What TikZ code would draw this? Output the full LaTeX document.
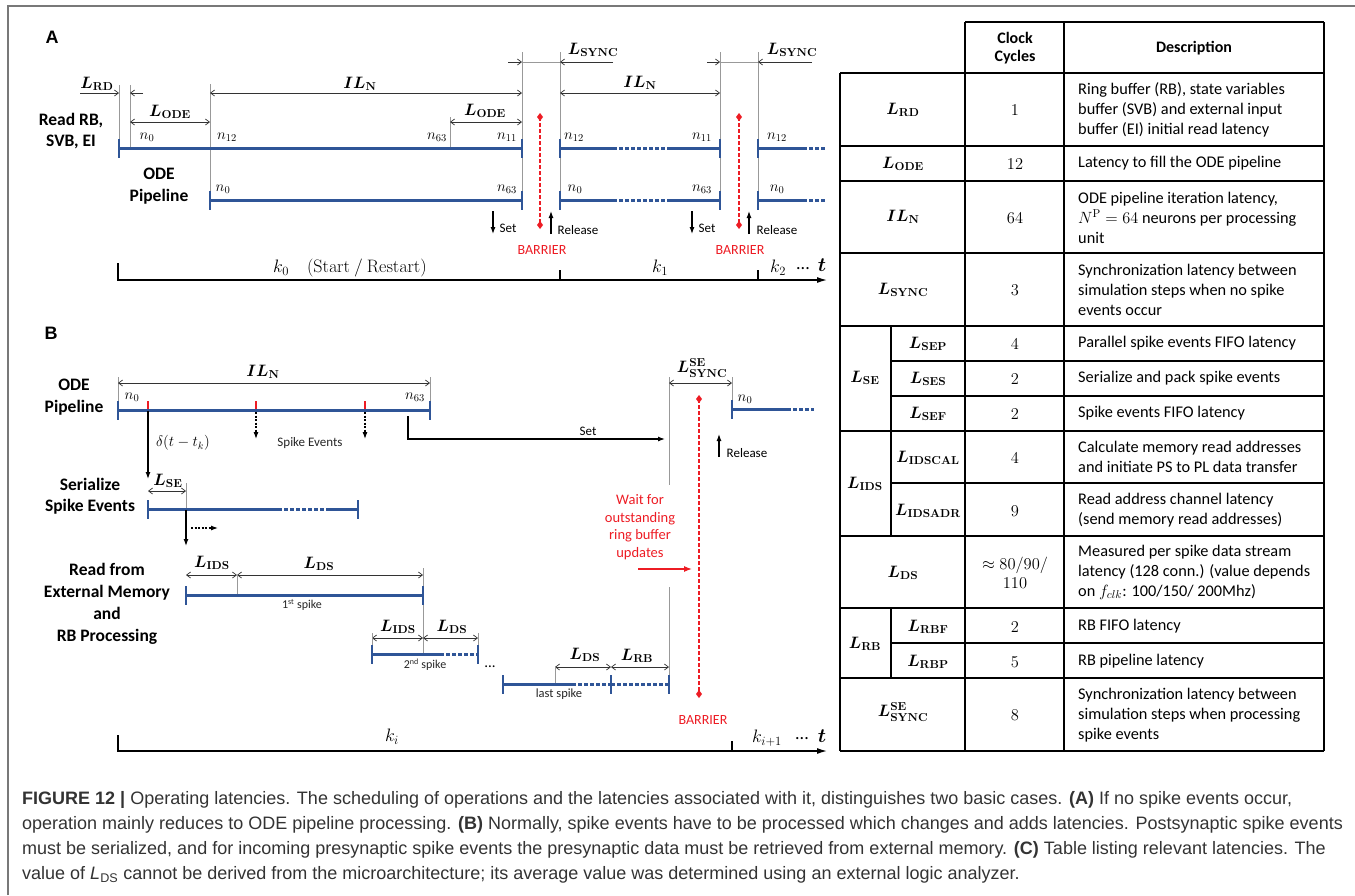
\RequirePackage{fix-cm}
\documentclass[tikz,border=0pt]{standalone}
\usepackage{amsmath}
\usepackage{bm}
\usepackage[no-math]{fontspec}
\setmainfont{Carlito}
\newfontfamily\capfont{Liberation Sans}
\usetikzlibrary{arrows.meta}
\definecolor{pipeblue}{RGB}{47,85,151}
\definecolor{barred}{RGB}{237,28,36}
\definecolor{capgray}{RGB}{51,51,51}
\definecolor{framegray}{RGB}{120,120,120}
\newcommand{\Lsub}[1]{\bm{L}_{\mathbf{#1}}}
\newcommand{\ILN}{\bm{I}\bm{L}_{\mathbf{N}}}
\newcommand{\barrierline}[3]{%
  \draw[barrierst] (#1,#2) -- (#1,#3);
  \fill[barred] (#1,#2-4) -- (#1+3,#2) -- (#1,#2+4) -- (#1-3,#2) -- cycle;
  \fill[barred] (#1,#3-4) -- (#1+3,#3) -- (#1,#3+4) -- (#1-3,#3) -- cycle;}
\tikzset{
  framest/.style={draw=framegray, line width=1.5pt},
  guide/.style={draw=black!40, line width=0.8pt},
  dim/.style={draw=black!80, line width=0.7pt, {Straight Barb[length=4pt,width=6pt]}-{Straight Barb[length=4pt,width=6pt]}},
  dimr/.style={draw=black!80, line width=0.7pt, -{Straight Barb[length=4pt,width=6pt]}},
  pipe/.style={draw=pipeblue, line width=3pt},
  pipedot/.style={draw=pipeblue, line width=3pt, dash pattern=on 3.5pt off 2.5pt},
  ptick/.style={draw=pipeblue, line width=2.6pt},
  redtick/.style={draw=barred, line width=2.6pt},
  sig/.style={draw=black, line width=1.2pt, -{Latex[length=7pt,width=5pt]}},
  sigdash/.style={draw=black, line width=1.1pt, dash pattern=on 2pt off 1.5pt, -{Latex[length=7pt,width=5pt]}},
  redsig/.style={draw=barred, line width=1.2pt, -{Latex[length=8pt,width=6pt]}},
  barrierst/.style={draw=barred, line width=2pt, dash pattern=on 4pt off 2pt},
  axisst/.style={draw=black, line width=1.3pt, -{Latex[length=10pt,width=6pt]}},
  axtick/.style={draw=black, line width=1.3pt},
  lab/.style={font=\fontsize{16.5}{20}\selectfont, inner sep=0pt},
  idx/.style={font=\fontsize{15}{17}\selectfont, inner sep=0pt},
  klab/.style={font=\fontsize{18}{20}\selectfont, inner sep=0pt},
  rowlab/.style={font=\fontsize{17.5}{21.5}\selectfont\bfseries, align=center, inner sep=0pt},
  note/.style={font=\fontsize{13}{15}\selectfont, inner sep=0pt},
  smallnote/.style={font=\fontsize{13}{15}\selectfont, text=black!85, inner sep=0pt},
  redtxt/.style={font=\fontsize{14.5}{17.5}\selectfont, text=barred, align=center, inner sep=0pt},
  panel/.style={font=\capfont\bfseries\fontsize{18}{20}\selectfont, inner sep=0pt},
  tline/.style={draw=black, line width=1.6pt},
  thead/.style={font=\fontsize{16}{18}\selectfont\bfseries, align=center, inner sep=0pt},
  tdesc/.style={font=\fontsize{16.3}{20}\selectfont, align=left, anchor=west, inner sep=0pt},
  tval/.style={font=\fontsize{16.5}{18}\selectfont, align=center, inner sep=0pt},
  tsym/.style={font=\fontsize{16.5}{20}\selectfont, inner sep=0pt},
  captext/.style={font=\capfont\fontsize{18}{20}\selectfont, text=capgray, anchor=west, inner sep=0pt},
}
\begin{document}
\begin{tikzpicture}[x=1pt,y=-1pt]
\useasboundingbox (0,0) rectangle (1355,895);
\draw[framest] (8,895) -- (8,6) -- (1355,6);

% ================= panel A: no spike events =================
\node[panel] (pA) at (52,37) {A};
\node[rowlab] (rdA) at (71,131) {Read RB,\\SVB, EI};
\node[rowlab] (odeA) at (159,186) {ODE\\Pipeline};

% guide lines
\foreach \x/\ya/\yb in {119/85/139, 130/85/148, 210/84/210, 450/117/148,
                        522/52/210, 560/52/210, 720/52/210, 758/52/210}
  \draw[guide] (\x,\ya) -- (\x,\yb);

% latency dimensions
\draw[dimr] (80,93) -- (119,93);
\draw[dimr] (143,93) -- (130,93);
\node[lab] (lrdA) at (97,84) {$\Lsub{RD}$};
\draw[dim] (210,93) -- (522,93);
\node[lab] (ilnA1) at (360,84) {$\ILN$};
\draw[dim] (130,122) -- (210,122);
\node[lab] (lodeA1) at (170,112) {$\Lsub{ODE}$};
\draw[dim] (450,122) -- (522,122);
\node[lab] (lodeA2) at (485,111) {$\Lsub{ODE}$};
\draw[dimr] (508,62) -- (522,62);
\draw[guide] (522,62) -- (560,62);
\draw[dimr] (613,62) -- (560,62);
\node[lab] (lsyncA1) at (593,50) {$\Lsub{SYNC}$};
\draw[dim] (560,93) -- (720,93);
\node[lab] (ilnA2) at (640,83) {$\ILN$};
\draw[dimr] (707,62) -- (720,62);
\draw[guide] (720,62) -- (758,62);
\draw[dimr] (812,62) -- (758,62);
\node[lab] (lsyncA2) at (792,50) {$\Lsub{SYNC}$};

% read / ODE pipeline bars
\foreach \y in {148,200} {
  \draw[pipe] (560,\y) -- (613,\y);
  \draw[pipedot] (613,\y) -- (668,\y);
  \draw[pipe] (668,\y) -- (720,\y);
  \draw[pipe] (758,\y) -- (803,\y);
  \draw[pipedot] (803,\y) -- (826,\y);
  \foreach \x in {522,560,720,758} \draw[ptick] (\x,\y-9) -- (\x,\y+10);
}
\draw[pipe] (119,148) -- (522,148);
\draw[ptick] (119,139) -- (119,158);
\draw[pipe] (210,200) -- (522,200);
\draw[ptick] (210,191) -- (210,210);

\node[idx] (nA1) at (147,137) {$n_0$};
\node[idx] (nA2) at (227,137) {$n_{12}$};
\node[idx] (nA3) at (437,137) {$n_{63}$};
\node[idx] (nA4) at (507,137) {$n_{11}$};
\node[idx] (nA5) at (574,137) {$n_{12}$};
\node[idx] (nA6) at (702,137) {$n_{11}$};
\node[idx] (nA7) at (777,137) {$n_{12}$};
\node[idx] (nA8) at (223,189) {$n_0$};
\node[idx] (nA9) at (507,189) {$n_{63}$};
\node[idx] (nA10) at (575,189) {$n_0$};
\node[idx] (nA11) at (702,189) {$n_{63}$};
\node[idx] (nA12) at (777,189) {$n_0$};

% barriers
\barrierline{540}{117}{225}
\barrierline{739}{117}{225}
\node[note, text=barred, font=\fontsize{14}{16}\selectfont] (barA1) at (542,250) {BARRIER};
\node[note, text=barred, font=\fontsize{14}{16}\selectfont] (barA2) at (740,250) {BARRIER};

\draw[sig] (493,211) -- (493,234);
\node[note] (setA1) at (508,228) {Set};
\draw[sig] (551,234) -- (551,211);
\node[note] (relA1) at (578,230) {Release};
\draw[sig] (692,211) -- (692,234);
\node[note] (setA2) at (707,228) {Set};
\draw[sig] (749,234) -- (749,211);
\node[note] (relA2) at (777,230) {Release};

% time axis
\draw[axisst] (118,263) -- (118,280) -- (827,280);
\draw[axtick] (560,270) -- (560,280);
\draw[axtick] (758,270) -- (758,280);
\node[klab] (k0) at (350,268) {$k_0\quad(\mathrm{Start\ /\ Restart})$};
\node[klab] (k1) at (660,268) {$k_1$};
\node[klab] (k2) at (778,268) {$k_2$};
\node[klab] (dotsA) at (803,269) {...};
\node[klab, font=\fontsize{20}{22}\selectfont] (tA) at (822,265) {$\bm{t}$};

% ================= panel B: with spike events =================
\node[panel] (pB) at (51,333) {B};
\node[rowlab] (odeB) at (74,397) {ODE\\Pipeline};
\node[rowlab] (serB) at (90,496) {Serialize\\Spike Events};
\node[rowlab, font=\fontsize{17.5}{22}\selectfont\bfseries] (rdB) at (107,604) {Read from\\External Memory\\and\\RB Processing};

% ODE pipeline iteration
\draw[guide] (118,377) -- (118,402);
\draw[guide] (430,377) -- (430,402);
\draw[dim] (118,383) -- (430,383);
\node[lab] (ilnB) at (263,372) {$\ILN$};
\draw[pipe] (118,410) -- (430,410);
\draw[ptick] (118,401) -- (118,420);
\draw[ptick] (430,401) -- (430,420);
\foreach \x in {148,256,365} \draw[redtick] (\x,401) -- (\x,409);
\node[idx] (nB1) at (132,397) {$n_0$};
\node[idx] (nB2) at (415,397) {$n_{63}$};

\draw[sig] (148,411) -- (148,479);
\node[note, font=\fontsize{15}{17}\selectfont] (delta) at (183,443) {$\delta(t-t_k)$};
\draw[sigdash] (256,412) -- (256,439);
\draw[sigdash] (365,412) -- (365,439);
\node[smallnote] (spev) at (310,443) {Spike Events};

\draw[sig] (408,416) -- (408,439) -- (665,439);
\node[note] (setB) at (588,431) {Set};

% synchronisation with spike events
\draw[guide] (669,377) -- (669,485);
\draw[guide] (669,587) -- (669,684);
\draw[guide] (732,377) -- (732,400);
\draw[dim] (669,383) -- (732,383);
\node[lab] (lsyncB) at (702,368) {$\bm{L}^{\mathbf{SE}}_{\mathbf{SYNC}}$};
\draw[pipe] (732,409) -- (787,409);
\draw[pipedot] (787,409) -- (814,409);
\draw[ptick] (732,400) -- (732,419);
\node[idx] (nB3) at (745,399) {$n_0$};
\draw[sig] (719,457) -- (719,434);
\node[note] (relB) at (747,453) {Release};
\barrierline{699}{399}{694}
\node[redtxt] (wait) at (640,527) {Wait for\\outstanding\\ring buffer\\updates};
\draw[redsig] (638,569) -- (692,569);
\node[note, text=barred, font=\fontsize{14}{16}\selectfont] (barB) at (703,720) {BARRIER};

% serialize spike events
\draw[dim] (148,491) -- (186,491);
\node[lab] (lse) at (168,481) {$\Lsub{SE}$};
\draw[guide] (186,483) -- (186,509);
\draw[pipe] (148,509) -- (278,509);
\draw[pipedot] (278,509) -- (330,509);
\draw[pipe] (330,509) -- (358,509);
\draw[ptick] (148,500) -- (148,519);
\draw[ptick] (358,500) -- (358,519);
\draw[sig] (186,510) -- (186,546);
\draw[sigdash] (191,528) -- (218,528);

% first spike
\draw[dim] (186,575) -- (237,575);
\node[lab] (lids1) at (212,563) {$\Lsub{IDS}$};
\draw[dim] (237,575) -- (423,575);
\node[lab] (lds1) at (319,564) {$\Lsub{DS}$};
\draw[guide] (237,575) -- (237,595);
\draw[guide] (423,568) -- (423,654);
\draw[pipe] (186,595) -- (423,595);
\draw[ptick] (186,586) -- (186,605);
\draw[ptick] (423,586) -- (423,605);
\node[smallnote, font=\fontsize{12}{14}\selectfont] (sp1) at (302,605) {1\textsuperscript{st} spike};

% second spike
\draw[dim] (372,638) -- (423,638);
\node[lab] (lids2) at (398,627) {$\Lsub{IDS}$};
\draw[dim] (423,638) -- (478,638);
\node[lab] (lds2) at (452,627) {$\Lsub{DS}$};
\draw[guide] (372,633) -- (372,645);
\draw[guide] (478,633) -- (478,645);
\draw[pipe] (372,654) -- (440,654);
\draw[pipedot] (440,654) -- (478,654);
\draw[ptick] (372,645) -- (372,664);
\draw[ptick] (478,645) -- (478,664);
\node[smallnote, font=\fontsize{12}{14}\selectfont] (sp2) at (425,665) {2\textsuperscript{nd} spike};
\node[klab, font=\fontsize{15}{17}\selectfont] (dotsB1) at (490,667) {...};

% last spike
\draw[dim] (555,667) -- (611,667);
\node[lab] (lds3) at (585,655) {$\Lsub{DS}$};
\draw[dim] (611,667) -- (669,667);
\node[lab] (lrb) at (637,656) {$\Lsub{RB}$};
\draw[guide] (555,666) -- (555,684);
\draw[pipe] (503,684) -- (572,684);
\draw[pipedot] (572,684) -- (611,684);
\draw[pipedot] (611,684) -- (669,684);
\draw[ptick] (503,675) -- (503,694);
\draw[ptick] (611,675) -- (611,694);
\draw[ptick] (669,675) -- (669,694);
\node[smallnote, font=\fontsize{12.5}{14}\selectfont] (sp3) at (559,694) {last spike};

% time axis
\draw[axisst] (118,735) -- (118,751) -- (827,751);
\draw[axtick] (732,741) -- (732,751);
\node[klab] (ki) at (392,737) {$k_i$};
\node[klab] (ki1) at (767,738) {$k_{i+1}$};
\node[klab] (dotsB2) at (802,739) {...};
\node[klab, font=\fontsize{20}{22}\selectfont] (tB) at (822,736) {$\bm{t}$};

% ================= panel C: latency table =================
\draw[tline] (965,22) -- (1324,22);
\foreach \y in {73,146,181,253,326,431,536,608,678,751}
  \draw[tline] (840,\y) -- (1324,\y);
\foreach \y in {361,396,483,643}
  \draw[tline] (891,\y) -- (1324,\y);
\draw[tline] (840,73) -- (840,751);
\draw[tline] (965,22) -- (965,751);
\draw[tline] (1064,22) -- (1064,751);
\draw[tline] (1324,22) -- (1324,751);
\draw[tline] (891,326) -- (891,536);
\draw[tline] (891,608) -- (891,678);

\node[thead] (hclk) at (1015,48) {Clock\\Cycles};
\node[thead] (hdesc) at (1194,48) {Description};

% symbols
\node[tsym] (sRD) at (903,110) {$\Lsub{RD}$};
\node[tsym] (sODE) at (903,164) {$\Lsub{ODE}$};
\node[tsym] (sILN) at (903,217) {$\ILN$};
\node[tsym] (sSYNC) at (903,290) {$\Lsub{SYNC}$};
\node[tsym] (sSE) at (865,378) {$\Lsub{SE}$};
\node[tsym] (sSEP) at (928,344) {$\Lsub{SEP}$};
\node[tsym] (sSES) at (928,379) {$\Lsub{SES}$};
\node[tsym] (sSEF) at (928,414) {$\Lsub{SEF}$};
\node[tsym] (sIDS) at (865,484) {$\Lsub{IDS}$};
\node[tsym] (sIDSCAL) at (928,458) {$\Lsub{IDSCAL}$};
\node[tsym] (sIDSADR) at (928,511) {$\Lsub{IDSADR}$};
\node[tsym] (sDS) at (903,573) {$\Lsub{DS}$};
\node[tsym] (sRB) at (865,644) {$\Lsub{RB}$};
\node[tsym] (sRBF) at (928,627) {$\Lsub{RBF}$};
\node[tsym] (sRBP) at (928,662) {$\Lsub{RBP}$};
\node[tsym] (sSSE) at (903,712) {$\bm{L}^{\mathbf{SE}}_{\mathbf{SYNC}}$};

% clock cycles
\node[tval] (vRD) at (1015,110) {$1$};
\node[tval] (vODE) at (1015,164) {$12$};
\node[tval] (vILN) at (1015,218) {$64$};
\node[tval] (vSYNC) at (1015,290) {$3$};
\node[tval] (vSEP) at (1015,344) {$4$};
\node[tval] (vSES) at (1015,379) {$2$};
\node[tval] (vSEF) at (1015,414) {$2$};
\node[tval] (vIDSCAL) at (1015,458) {$4$};
\node[tval] (vIDSADR) at (1015,511) {$9$};
\node[tval, font=\fontsize{16.5}{18.5}\selectfont] (vDS) at (1015,573) {$\approx 80/90/$\\$110$};
\node[tval] (vRBF) at (1015,627) {$2$};
\node[tval] (vRBP) at (1015,662) {$5$};
\node[tval] (vSSE) at (1015,715) {$8$};

% descriptions
\node[tdesc] (dRD) at (1078,110) {Ring buffer (RB), state variables\\buffer (SVB) and external input\\buffer (EI) initial read latency};
\node[tdesc] (dODE) at (1078,163) {Latency to fill the ODE pipeline};
\node[tdesc] (dILN) at (1078,218) {ODE pipeline iteration latency,\\$N^{\mathrm{P}}=64$ neurons per processing\\unit};
\node[tdesc] (dSYNC) at (1078,290) {Synchronization latency between\\simulation steps when no spike\\events occur};
\node[tdesc] (dSEP) at (1078,343) {Parallel spike events FIFO latency};
\node[tdesc] (dSES) at (1078,378) {Serialize and pack spike events};
\node[tdesc] (dSEF) at (1078,413) {Spike events FIFO latency};
\node[tdesc] (dIDSCAL) at (1078,457) {Calculate memory read addresses\\and initiate PS to PL data transfer};
\node[tdesc] (dIDSADR) at (1078,510) {Read address channel latency\\(send memory read addresses)};
\node[tdesc] (dDS) at (1078,572) {Measured per spike data stream\\latency (128 conn.) (value depends\\on $f_{clk}$: 100/150/ 200Mhz)};
\node[tdesc] (dRBF) at (1078,626) {RB FIFO latency};
\node[tdesc] (dRBP) at (1078,661) {RB pipeline latency};
\node[tdesc] (dSSE) at (1078,715) {Synchronization latency between\\simulation steps when processing\\spike events};

% ================= caption =================
\node[captext] (c1) at (22,800) {\textbf{FIGURE 12 |} Operating latencies. The scheduling of operations and the latencies associated with it, distinguishes two basic cases. \textbf{(A)} If no spike events occur,};
\node[captext] (c2) at (22,825) {operation mainly reduces to ODE pipeline processing. \textbf{(B)} Normally, spike events have to be processed which changes and adds latencies. Postsynaptic spike events};
\node[captext] (c3) at (22,850) {must be serialized, and for incoming presynaptic spike events the presynaptic data must be retrieved from external memory. \textbf{(C)} Table listing relevant latencies. The};
\node[captext] (c4) at (22,875) {value of \textit{L}\textsubscript{DS} cannot be derived from the microarchitecture; its average value was determined using an external logic analyzer.};
\end{tikzpicture}
\end{document}
